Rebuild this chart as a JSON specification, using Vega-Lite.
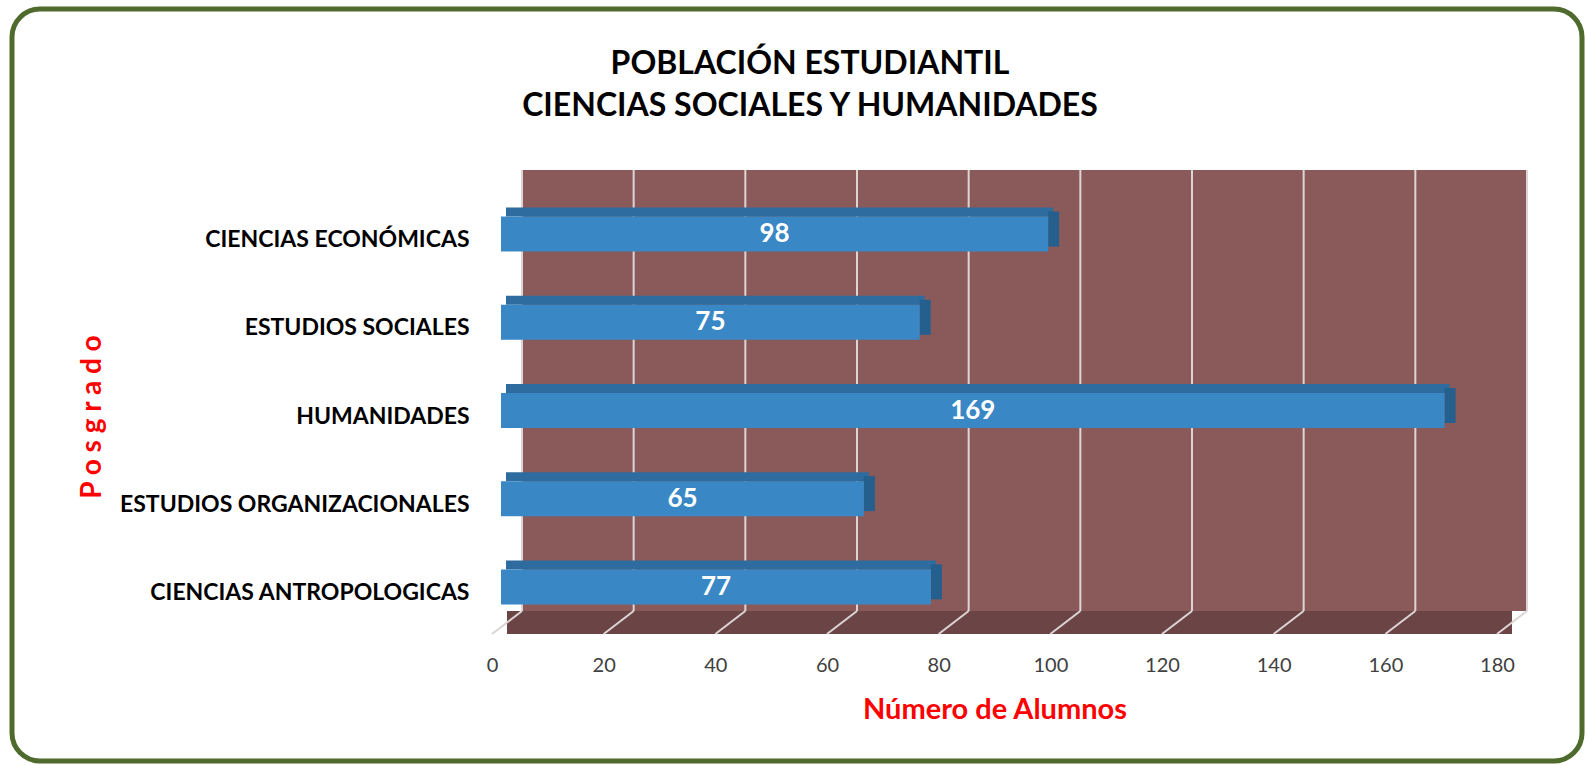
{
  "$schema": "https://vega.github.io/schema/vega-lite/v6.json",
  "autosize": {"type": "none"},
  "padding": {"left": 12, "top": 9, "right": 5, "bottom": 4},
  "width": 1570,
  "height": 752,
  "background": "#FFFFFF",
  "config": {
    "view": {"stroke": "#4F6A2D", "strokeWidth": 5, "cornerRadius": 28, "fill": "#FFFFFF"},
    "font": "Lato",
    "axisX": {
      "title": "Número de Alumnos",
      "orient": "bottom",
      "offset": -127,
      "domain": false,
      "ticks": false,
      "grid": false,
      "labelFont": "Lato",
      "labelFontSize": 20,
      "labelColor": "#404040",
      "labelPadding": 31,
      "labelBaseline": "middle",
      "labelFlush": false,
      "labelOverlap": false,
      "titleFont": "Lato",
      "titleFontSize": 29,
      "titleFontWeight": "bold",
      "titleColor": "#FF0000",
      "titleY": 75,
      "titleBaseline": "middle"
    }
  },
  "title": {
    "text": ["POBLACIÓN ESTUDIANTIL", "CIENCIAS SOCIALES Y HUMANIDADES"],
    "anchor": "middle",
    "frame": "group",
    "offset": -114,
    "dx": 13,
    "font": "Lato",
    "fontSize": 32,
    "fontWeight": "bold",
    "color": "#000000",
    "lineHeight": 42
  },
  "datasets": {
    "barras": [
      {"programa": "CIENCIAS ECONÓMICAS", "alumnos": 98},
      {"programa": "ESTUDIOS SOCIALES", "alumnos": 75},
      {"programa": "HUMANIDADES", "alumnos": 169},
      {"programa": "ESTUDIOS ORGANIZACIONALES", "alumnos": 65},
      {"programa": "CIENCIAS ANTROPOLOGICAS", "alumnos": 77}
    ],
    "pared": [{"desde": 0, "hasta": 180, "abajo": 0, "arriba": 1}],
    "marcas": [{"v": 0}, {"v": 20}, {"v": 40}, {"v": 60}, {"v": 80}, {"v": 100}, {"v": 120}, {"v": 140}, {"v": 160}, {"v": 180}]
  },
  "layer": [
    {
      "layer": [
        {
          "data": {"name": "pared"},
          "mark": {"type": "rect", "color": "#8A5A5B", "xOffset": 30, "x2Offset": 30, "yOffset": -23, "y2Offset": -23},
          "encoding": {
            "x": {
              "field": "desde",
              "type": "quantitative",
              "scale": {"domain": [0, 180], "range": [480, 1485], "nice": false},
              "axis": {"title": "Número de Alumnos", "values": [0, 20, 40, 60, 80, 100, 120, 140, 160, 180]}
            },
            "x2": {"field": "hasta"},
            "y": {"field": "abajo", "type": "quantitative", "scale": {"domain": [0, 1], "range": [625, 184], "nice": false, "zero": false}, "axis": null},
            "y2": {"field": "arriba"}
          }
        },
        {
          "data": {"name": "pared"},
          "mark": {"type": "rect", "color": "#6B4546", "xOffset": 15, "x2Offset": 15, "y2Offset": -23},
          "encoding": {
            "x": {"field": "desde", "type": "quantitative", "axis": {"title": "Número de Alumnos", "values": [0, 20, 40, 60, 80, 100, 120, 140, 160, 180]}},
            "x2": {"field": "hasta"},
            "y": {"field": "abajo", "type": "quantitative", "axis": null},
            "y2": {"field": "abajo"}
          }
        },
        {
          "data": {"name": "marcas"},
          "mark": {"type": "rule", "color": "#DDD4D4", "strokeWidth": 2, "xOffset": 30, "yOffset": -23, "y2Offset": -23},
          "encoding": {
            "x": {"field": "v", "type": "quantitative", "axis": {"title": "Número de Alumnos", "values": [0, 20, 40, 60, 80, 100, 120, 140, 160, 180]}},
            "y": {"datum": 0, "type": "quantitative", "axis": null},
            "y2": {"datum": 1}
          }
        },
        {
          "data": {"name": "marcas"},
          "mark": {"type": "rule", "color": "#DDD4D4", "strokeWidth": 2, "x2Offset": 30, "y2Offset": -23},
          "encoding": {
            "x": {"field": "v", "type": "quantitative", "axis": {"title": "Número de Alumnos", "values": [0, 20, 40, 60, 80, 100, 120, 140, 160, 180]}},
            "x2": {"field": "v"},
            "y": {"datum": 0, "type": "quantitative", "axis": null},
            "y2": {"datum": 0}
          }
        }
      ]
    },
    {
      "data": {"name": "barras"},
      "encoding": {
        "y": {
          "field": "programa",
          "type": "nominal",
          "sort": null,
          "scale": {"range": [187, 628], "paddingInner": 0, "paddingOuter": 0},
          "axis": {
            "title": "P o s g r a d o",
            "orient": "left",
            "offset": -467,
            "domain": false,
            "ticks": false,
            "grid": false,
            "labelFont": "Lato",
            "labelFontSize": 23,
            "labelFontWeight": "bold",
            "labelColor": "#000000",
            "labelPadding": 10,
            "labelLimit": 500,
            "titleFont": "Lato",
            "titleFontSize": 28,
            "titleFontWeight": "bold",
            "titleColor": "#FF0000",
            "titleAngle": -90,
            "titleX": -387,
            "titleBaseline": "middle",
            "titleAlign": "center"
          }
        }
      },
      "layer": [
        {
          "mark": {"type": "bar", "color": "#2E6B9E", "height": 9, "yOffset": -28, "xOffset": 14, "x2Offset": 14},
          "encoding": {
            "x": {"field": "alumnos", "type": "quantitative", "axis": {"title": "Número de Alumnos", "values": [0, 20, 40, 60, 80, 100, 120, 140, 160, 180]}}
          }
        },
        {
          "mark": {"type": "bar", "color": "#245F8E", "height": 35, "yOffset": -11, "xOffset": 9, "x2Offset": 20},
          "encoding": {
            "x": {"field": "alumnos", "type": "quantitative", "axis": {"title": "Número de Alumnos", "values": [0, 20, 40, 60, 80, 100, 120, 140, 160, 180]}},
            "x2": {"field": "alumnos"}
          }
        },
        {
          "mark": {"type": "bar", "color": "#3A87C5", "height": 35, "yOffset": -6, "xOffset": 9, "x2Offset": 9},
          "encoding": {
            "x": {"field": "alumnos", "type": "quantitative", "axis": {"title": "Número de Alumnos", "values": [0, 20, 40, 60, 80, 100, 120, 140, 160, 180]}}
          }
        },
        {
          "transform": [{"calculate": "datum.alumnos / 2", "as": "centro"}],
          "mark": {"type": "text", "font": "Lato", "fontSize": 26, "fontWeight": "bold", "color": "#FFFFFF", "yOffset": -6, "xOffset": 9, "baseline": "middle"},
          "encoding": {
            "x": {"field": "centro", "type": "quantitative", "axis": {"title": "Número de Alumnos", "values": [0, 20, 40, 60, 80, 100, 120, 140, 160, 180]}},
            "text": {"field": "alumnos"}
          }
        }
      ]
    }
  ],
  "resolve": {"scale": {"y": "independent"}, "axis": {"y": "independent"}}
}
